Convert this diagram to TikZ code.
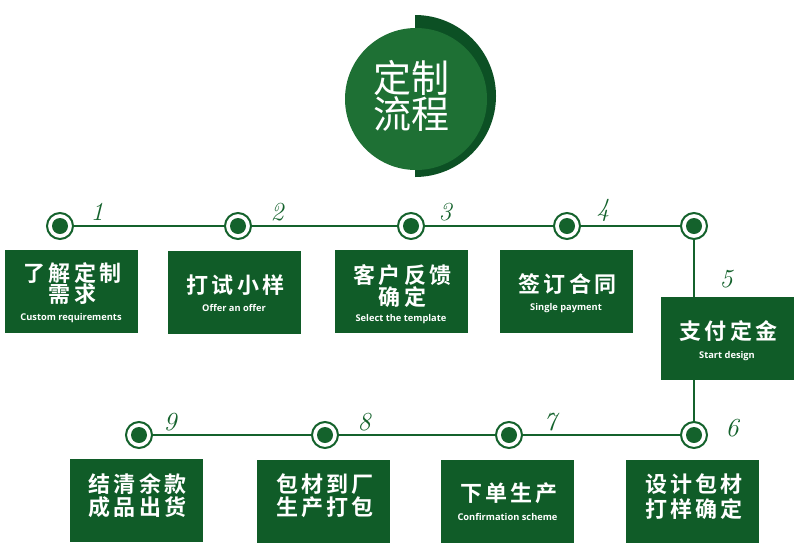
\documentclass[tikz,border=0pt]{standalone}
\usepackage{fontspec}
\newfontfamily\cjk{Noto Sans CJK SC}[BoldFont={Noto Sans CJK SC Bold}]
\newfontfamily\cjkls{Noto Sans CJK SC}[BoldFont={Noto Sans CJK SC Bold},LetterSpace=14]
\newfontfamily\en{Open Sans}[BoldFont={Open Sans Bold}]
\definecolor{boxg}{RGB}{16,92,40}
\definecolor{lineg}{RGB}{20,98,44}
\definecolor{circg}{RGB}{30,112,52}
\definecolor{darkg}{RGB}{12,80,36}
\tikzset{
  stepbox/.style={fill=boxg, minimum width=133pt, minimum height=83pt, inner sep=0pt},
  dot/.style={circle, draw=lineg, line width=2pt, fill=white, minimum size=26pt, inner sep=0pt,
    path picture={\fill[lineg] (path picture bounding box.center) circle (8pt);}},
  conn/.style={draw=lineg, line width=2pt},
  zh/.style={text=white, font=\cjkls\bfseries\fontsize{22}{22}\selectfont, inner sep=0pt, xshift=1.5pt},
  ensub/.style={text=white, font=\en\bfseries\fontsize{9.3}{10}\selectfont, inner sep=0pt},
  num/.style={text=lineg, font=\itshape\fontsize{26}{26}\selectfont, inner sep=0pt},
}
\begin{document}
\begin{tikzpicture}[x=1pt,y=-1pt]
\useasboundingbox (0,0) rectangle (800,558);
% title
\fill[darkg] (415,15) arc[start angle=-90,end angle=90,radius=81] -- cycle;
\node[circle, fill=circg, minimum size=142pt, inner sep=0pt] (title) at (416,99) {};
\node[text=white, font=\cjk\fontsize{38}{38}\selectfont, inner sep=0pt] (t1) at (411.5,78) {定制};
\node[text=white, font=\cjk\fontsize{38}{38}\selectfont, inner sep=0pt] (t2) at (411.5,114) {流程};
% dots
\node[dot] (d1) at (60,226) {};
\node[dot] (d2) at (238,226) {};
\node[dot] (d3) at (411,226) {};
\node[dot] (d4) at (567,226) {};
\node[dot] (d5) at (694,226) {};
\node[dot] (d6) at (694,435) {};
\node[dot] (d7) at (509,435) {};
\node[dot] (d8) at (325,435) {};
\node[dot] (d9) at (139,435) {};
% boxes
\node[stepbox] (b1) at (71,291) {};
\node[stepbox] (b2) at (234,292.5) {};
\node[stepbox] (b3) at (401,291.5) {};
\node[stepbox] (b4) at (566,291) {};
\node[stepbox] (b5) at (727,338.5) {};
\node[stepbox] (b6) at (692.5,501.5) {};
\node[stepbox] (b7) at (507.5,501.5) {};
\node[stepbox] (b8) at (323.5,501) {};
\node[stepbox] (b9) at (136,500.5) {};
% connectors
\draw[conn] (d1) -- (d2);
\draw[conn] (d2) -- (d3);
\draw[conn] (d3) -- (d4);
\draw[conn] (d4) -- (d5);
\draw[conn] (d5) -- (d5 |- b5.north);
\draw[conn] (d6 |- b5.south) -- (d6);
\draw[conn] (d6) -- (d7);
\draw[conn] (d7) -- (d8);
\draw[conn] (d8) -- (d9);
% numbers
\node[num] (n1) at (97,212) {1};
\node[num] (n2) at (277,212) {2};
\node[num] (n3) at (445,212) {3};
\node[num] (n4) at (603,210) {4};
\node[num] (n5) at (726,279) {5};
\node[num] (n6) at (732,428) {6};
\node[num] (n7) at (550,422) {7};
\node[num] (n8) at (364,422) {8};
\node[num] (n9) at (170,422) {9};
% texts
\node[zh] (l1a) at (71,273) {了解定制};
\node[zh] (l1b) at (71,294) {需求};
\node[ensub] (l1c) at (71,318.5) {Custom requirements};
\node[zh] (l2a) at (234,285) {打试小样};
\node[ensub] (l2c) at (234,308) {Offer an offer};
\node[zh] (l3a) at (401,275) {客户反馈};
\node[zh] (l3b) at (401,297) {确定};
\node[ensub] (l3c) at (401,319) {Select the template};
\node[zh] (l4a) at (566,284) {签订合同};
\node[ensub] (l4c) at (566,308) {Single payment};
\node[zh] (l5a) at (727,331) {支付定金};
\node[ensub] (l5c) at (727,356) {Start design};
\node[zh] (l9a) at (136,484) {结清余款};
\node[zh] (l9b) at (136,507) {成品出货};
\node[zh] (l8a) at (323.5,484) {包材到厂};
\node[zh] (l8b) at (323.5,507) {生产打包};
\node[zh] (l7a) at (507.5,493) {下单生产};
\node[ensub] (l7c) at (507.5,517) {Confirmation scheme};
\node[zh] (l6a) at (692.5,484) {设计包材};
\node[zh] (l6b) at (692.5,509) {打样确定};
\end{tikzpicture}
\end{document}
